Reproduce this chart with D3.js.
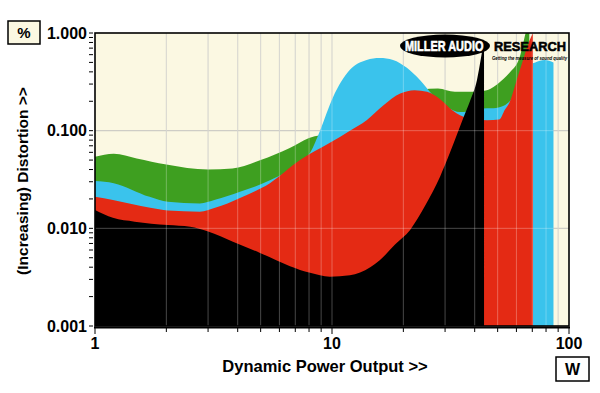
<!DOCTYPE html>
<html><head><meta charset="utf-8">
<script src="https://cdn.jsdelivr.net/npm/d3@7"></script>
<style>body{margin:0;background:#fff;}svg{display:block;font-family:"Liberation Sans",Arial,sans-serif;}</style>
</head><body>
<svg id="c" width="600" height="393"></svg>
<script>
// ---- data (power in W, distortion in %) ----
const greenPower = [1, 1.2, 1.5, 2, 3, 3.8, 5, 6.6, 8, 10, 14, 20, 28, 33, 39, 45, 48, 53, 56, 62, 66, 68];
const greenDist  = [0.054, 0.058, 0.052, 0.045, 0.040, 0.041, 0.050, 0.066, 0.084, 0.095, 0.15, 0.24, 0.27, 0.25, 0.25, 0.26, 0.28, 0.34, 0.39, 0.57, 1.05, 1.3];

const cyanPower = [1, 1.2, 1.7, 2.03, 2.77, 3.21, 4.09, 5.47, 7.33, 8.1, 8.9, 10.1, 11.9, 14, 15.9, 18.1, 20.7, 23.5, 26.7, 30.6, 34.7, 39, 45, 48, 53, 58, 62, 66, 72, 79, 86];
const cyanDist  = [0.0305, 0.029, 0.021, 0.0187, 0.018, 0.0196, 0.0237, 0.031, 0.047, 0.06, 0.1, 0.22, 0.42, 0.53, 0.555, 0.53, 0.44, 0.33, 0.23, 0.175, 0.155, 0.16, 0.17, 0.17, 0.18, 0.22, 0.3, 0.45, 0.5, 0.53, 0.5];

const redPower = [1, 1.19, 1.71, 2.03, 2.77, 3.21, 4.09, 5.47, 7.33, 9.8, 11.9, 14.0, 16.4, 19.4, 22.3, 25.2, 28.6, 32.4, 37.1, 45.1, 50.7, 53.7, 56.4, 59.2, 62.1, 65, 68.3, 70.5];
const redDist  = [0.021, 0.0195, 0.0162, 0.0152, 0.0148, 0.0162, 0.0205, 0.029, 0.050, 0.075, 0.10, 0.128, 0.18, 0.24, 0.26, 0.25, 0.21, 0.16, 0.135, 0.128, 0.13, 0.165, 0.2, 0.29, 0.42, 0.6, 0.85, 1.0];

const blackPower = [1, 1.19, 1.47, 2.03, 2.52, 3.0, 3.82, 4.97, 6.65, 8.08, 9.8, 11.9, 14.5, 15.9, 18.4, 21.4, 24.7, 28.6, 31.5, 35.6, 38.2, 40.9, 42.5, 43.8];
const blackDist  = [0.0154, 0.0128, 0.0117, 0.0108, 0.0104, 0.0093, 0.0073, 0.0056, 0.0041, 0.0035, 0.0032, 0.0033, 0.0040, 0.0047, 0.0068, 0.0097, 0.017, 0.034, 0.06, 0.13, 0.2, 0.33, 0.55, 0.85];

const xTickLabels = ["1", "10", "100"];
const yTickLabels = ["1.000", "0.100", "0.010", "0.001"];

const series = [
  {name:"green", power:greenPower, dist:greenDist, color:"#3e9f20"},
  {name:"cyan",  power:cyanPower,  dist:cyanDist,  color:"#3ac3ec"},
  {name:"red",   power:redPower,   dist:redDist,   color:"#e42a14"},
  {name:"black", power:blackPower, dist:blackDist, color:"#000000"}
];

// ---- layout ----
const L = 95, R = 569, T = 33, B = 326;
const svg = d3.select("#c");
const x = d3.scaleLog().domain([1, 100]).range([L, R]);
const y = d3.scaleLog().domain([0.001, 1]).range([B, T]);

svg.append("defs").append("clipPath").attr("id","clip")
  .append("rect").attr("x",L).attr("y",T).attr("width",R-L).attr("height",B-T);

svg.append("rect").attr("x",L).attr("y",T).attr("width",R-L).attr("height",B-T).attr("fill","#fbf8e2");

const minorX = [];
for (let d = 1; d <= 10; d *= 10) for (let k = 1; k <= 9; k++) minorX.push(d*k);
minorX.push(100);
const minorY = [];
for (let d = 0.001; d < 1; d *= 10) for (let k = 1; k <= 9; k++) minorY.push(+(d*k).toPrecision(3));
minorY.push(1);

const grid1 = svg.append("g");
grid1.selectAll("line.vx").data(minorX.filter(v => v > 1 && v < 100)).join("line")
  .attr("x1", d => x(d)).attr("x2", d => x(d)).attr("y1", T).attr("y2", B)
  .attr("stroke", "#c9c9c0").attr("stroke-width", 1);
grid1.selectAll("line.hy").data([0.01, 0.1]).join("line")
  .attr("x1", L).attr("x2", R).attr("y1", d => y(d)).attr("y2", d => y(d))
  .attr("stroke", "#b5b5ad").attr("stroke-width", 1);

const plot = svg.append("g").attr("clip-path","url(#clip)");
series.forEach(s => {
  const pts = s.power.map((p,i) => [p, s.dist[i]]);
  const area = d3.area().x(d => x(d[0])).y0(B + 5).y1(d => y(d[1])).curve(d3.curveMonotoneX);
  plot.append("path").datum(pts).attr("d", area).attr("fill", s.color);
});

// gridlines over fills (visible on dark colours)
const grid2 = svg.append("g").attr("clip-path","url(#clip)");
grid2.selectAll("line.vx").data(minorX.filter(v => v > 1 && v < 100)).join("line")
  .attr("x1", d => x(d)).attr("x2", d => x(d)).attr("y1", T).attr("y2", B)
  .attr("stroke", "#ffffff").attr("stroke-opacity", 0.28).attr("stroke-width", 1);
grid2.selectAll("line.hy").data([0.01, 0.1]).join("line")
  .attr("x1", L).attr("x2", R).attr("y1", d => y(d)).attr("y2", d => y(d))
  .attr("stroke", "#ffffff").attr("stroke-opacity", 0.28).attr("stroke-width", 1);

// logo
const logo = svg.append("g");
logo.append("ellipse").attr("cx", 445).attr("cy", 46).attr("rx", 45).attr("ry", 11.5).attr("fill", "#000");
logo.append("text").attr("transform", "translate(405,51) scale(0.78,1)")
  .attr("font-size", 14).attr("font-weight", 900).attr("fill", "#fff")
  .attr("stroke", "#fff").attr("stroke-width", 0.6).text("MILLER AUDIO");
logo.append("text").attr("transform", "translate(494,50.5) scale(0.95,1)")
  .attr("font-size", 13.5).attr("font-weight", 900).attr("fill", "#000")
  .attr("stroke", "#000").attr("stroke-width", 0.6).text("RESEARCH");
logo.append("text").attr("x", 492).attr("y", 59.5).attr("textLength", 75).attr("lengthAdjust","spacingAndGlyphs")
  .attr("font-size", 5.5).attr("font-weight", 700).attr("font-style","italic").attr("fill", "#000").text("Getting the measure of sound quality");

// frame
svg.append("rect").attr("x",L).attr("y",T).attr("width",R-L).attr("height",B-T)
  .attr("fill","none").attr("stroke","#000").attr("stroke-width",1.6);
svg.append("line").attr("x1",L-1).attr("x2",R+1).attr("y1",B+1.5).attr("y2",B+1.5).attr("stroke","#000").attr("stroke-width",2);

// y ticks
svg.selectAll("line.yt").data(minorY).join("line")
  .attr("x1", L-6).attr("x2", L-2).attr("y1", d => y(d)).attr("y2", d => y(d))
  .attr("stroke", "#000").attr("stroke-width", 1);
const yMajor = [1, 0.1, 0.01, 0.001];
svg.selectAll("text.yl").data(yMajor).join("text")
  .attr("x", 87).attr("y", d => y(d) + 5.5).attr("text-anchor","end")
  .attr("font-size", 16).attr("font-weight", 700).text((d,i) => yTickLabels[i]);

// x ticks
svg.selectAll("line.xt").data(minorX).join("line")
  .attr("x1", d => x(d)).attr("x2", d => x(d)).attr("y1", B+2).attr("y2", d => [1,10,100].includes(d) ? B+8 : B+6)
  .attr("stroke", "#000").attr("stroke-width", 1);
svg.selectAll("text.xl").data([1,10,100]).join("text")
  .attr("x", d => x(d)).attr("y", 349).attr("text-anchor","middle")
  .attr("font-size", 16).attr("font-weight", 700).text((d,i) => xTickLabels[i]);

// titles
svg.append("text").attr("x", 325).attr("y", 372).attr("text-anchor","middle")
  .attr("font-size", 16.5).attr("font-weight", 700).text("Dynamic Power Output >>");
svg.append("text").attr("transform","translate(28,181) rotate(-90)").attr("text-anchor","middle")
  .attr("font-size", 15.5).attr("font-weight", 700).text("(Increasing) Distortion >>");

// unit boxes
svg.append("rect").attr("x", 8).attr("y", 21).attr("width", 32).attr("height", 23)
  .attr("fill", "#fbf8e2").attr("stroke", "#000").attr("stroke-width", 1.5);
svg.append("text").attr("x", 24).attr("y", 38).attr("text-anchor","middle")
  .attr("font-size", 15).attr("font-weight", 700).text("%");
svg.append("rect").attr("x", 556).attr("y", 357).attr("width", 33).attr("height", 24)
  .attr("fill", "#fff").attr("stroke", "#000").attr("stroke-width", 1.5);
svg.append("text").attr("x", 572.5).attr("y", 375).attr("text-anchor","middle")
  .attr("font-size", 16).attr("font-weight", 700).text("W");
</script>
</body></html>
